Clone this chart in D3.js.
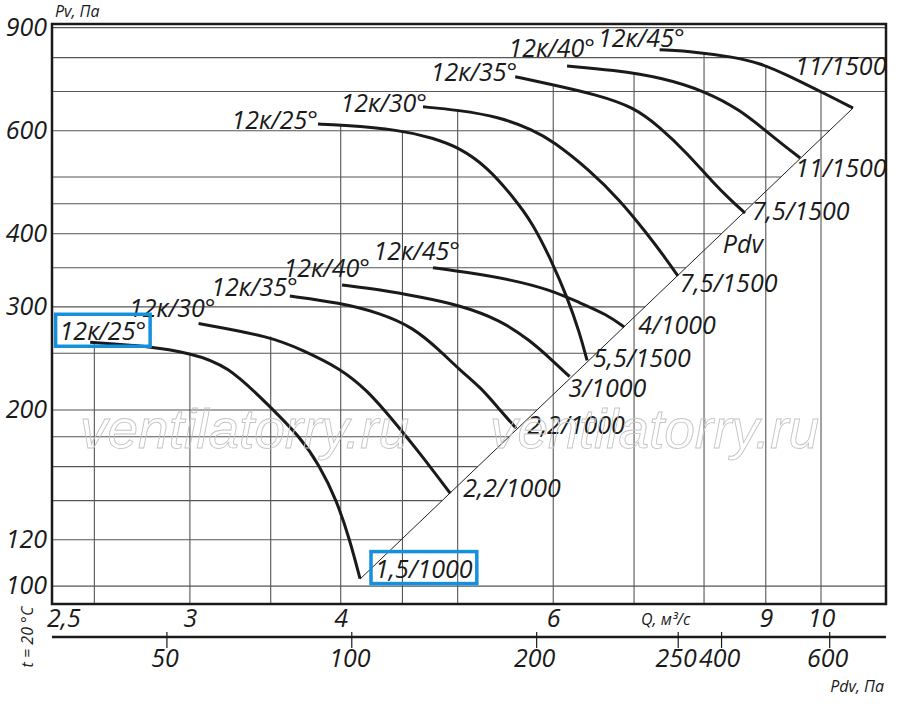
<!DOCTYPE html>
<html>
<head>
<meta charset="utf-8">
<script src="https://cdnjs.cloudflare.com/ajax/libs/d3/7.8.5/d3.min.js"></script>
<style>
body {margin: 0; background: #fff;}
svg {display: block;}
text {font-family: "Open Sans", sans-serif; font-style: italic; fill: #1a1a1a;}
.grid {stroke: #555; stroke-width: 1.1; fill: none;}
.curve {stroke: #1a1a1a; stroke-width: 3; fill: none;}
.watermark {fill: none; stroke: #c4c4c4; stroke-width: 0.9; font-family: "Liberation Sans", Arial, sans-serif;}
</style>
</head>
<body>
<div id="chart"></div>
<script>
// blade setting of each curve and the motor (kW/rpm) at its end
var bladeNames = ["12к/25°", "12к/30°", "12к/35°", "12к/40°", "12к/45°",
                  "12к/25°", "12к/30°", "12к/35°", "12к/40°", "12к/45°"];
var motorNames = ["1,5/1000", "2,2/1000", "2,2/1000", "3/1000", "4/1000",
                  "5,5/1500", "7,5/1500", "7,5/1500", "11/1500", "11/1500"];

// Q, m3/s, one list per curve
var curveQ = [
    [2.48, 2.78, 3.00, 3.22, 3.50, 3.70, 3.84, 3.97, 4.07, 4.15],
    [3.05, 3.50, 3.72, 3.99, 4.21, 4.42, 4.65, 4.93],
    [3.63, 3.99, 4.31, 4.59, 4.83, 5.02, 5.22, 5.42, 5.59],
    [4.01, 4.31, 4.65, 5.02, 5.42, 5.74, 5.99, 6.19],
    [4.77, 5.12, 5.53, 5.96, 6.31, 6.65, 6.87],
    [3.83, 3.99, 4.48, 4.77, 5.02, 5.29, 5.56, 5.77, 5.99, 6.16, 6.31, 6.40],
    [4.68, 5.00, 5.42, 5.77, 5.99, 6.43, 6.81, 7.17, 7.45, 7.61],
    [5.58, 5.99, 6.52, 6.99, 7.35, 7.74, 8.14, 8.45, 8.65],
    [6.16, 6.72, 7.40, 8.04, 8.57, 9.02, 9.37, 9.61],
    [7.35, 7.89, 8.45, 8.90, 9.37, 9.85, 10.23, 10.63]
];
// Pv, Pa for the same points
var curveP = [
    [261, 257, 250, 239, 202, 180, 161, 140, 120, 103],
    [281, 267, 253, 236, 216, 192, 169, 144],
    [313, 305, 293, 277, 253, 234, 219, 200, 186],
    [327, 321, 312, 302, 285, 263, 243, 228],
    [350, 343, 334, 321, 305, 291, 277],
    [616, 614, 602, 583, 561, 520, 462, 417, 357, 312, 271, 243],
    [659, 651, 633, 602, 577, 514, 457, 401, 361, 339],
    [742, 719, 691, 659, 609, 550, 489, 453, 434],
    [774, 762, 739, 699, 651, 597, 561, 539],
    [825, 818, 802, 783, 747, 710, 683, 656]
];

// dynamic pressure line (Pdv) end points
var pdvLineQ = [4.15, 10.63];
var pdvLineP = [102.8, 656];

var gridQ = [2.5, 3, 3.5, 4, 4.5, 5, 6, 7, 8, 9, 10];
var gridP = [100, 120, 140, 160, 180, 200, 250, 300, 350, 400, 450, 500, 600, 700, 800, 900];
var qTicks = [2.5, 3, 4, 6, 9, 10];
var pvTicks = [100, 120, 200, 300, 400, 600, 900];
var pdvTickValues = [50, 100, 200, 340, 400, 600];
var pdvTickLabels = ["50", "100", "200", "250", "400", "600"];

/**
 * Constructor for the fan chart
 */
function FanChart(){
    var self = this;
    self.init();
};

/**
 * Sets up svg, scales and label layout
 */
FanChart.prototype.init = function(){
    var self = this;

    self.margin = {top: 24, right: 14, bottom: 103, left: 52};
    self.svgWidth = 900;
    self.svgHeight = 707;
    self.width = self.svgWidth - self.margin.left - self.margin.right;
    self.height = self.svgHeight - self.margin.top - self.margin.bottom;
    self.fontSize = 25;

    self.svg = d3.select("#chart").append("svg")
        .attr("width", self.svgWidth)
        .attr("height", self.svgHeight);

    self.plot = self.svg.append("g")
        .attr("transform", "translate(" + self.margin.left + "," + self.margin.top + ")");

    self.xScale = d3.scaleLog().domain([2.306, 11.32]).range([0, self.width]);
    self.yScale = d3.scaleLog().domain([93.2, 913]).range([self.height, 0]);
    self.pdvScale = d3.scaleLog().domain([32.5, 741]).range([0, self.width]);

    // label offsets from curve start (blade) and curve end (motor)
    self.bladeOffset = [[56, -2], [17, -7], [8, 0], [28, -8], [27, -8],
                        [0, 5], [4, 5], [2, 4], [28, -9], [25, -3]];
    self.motorOffset = [[15, -1], [13, 4], [11, 6], [-1, 20], [14, 7],
                        [6, 7], [2, 16], [7, 7], [-5, 19], [-58, -33]];
};

/**
 * x position where the Pdv line crosses a given pressure, or null
 */
FanChart.prototype.pdvX = function(p){
    var self = this;
    var t = (Math.log(p) - Math.log(pdvLineP[0])) / (Math.log(pdvLineP[1]) - Math.log(pdvLineP[0]));
    if (t < 0 || t > 1) return null;
    var x0 = self.xScale(pdvLineQ[0]), x1 = self.xScale(pdvLineQ[1]);
    return x0 + t * (x1 - x0);
};

/**
 * Highest curve (smallest y) above a given Q, used to cut the vertical grid
 */
FanChart.prototype.topAt = function(q){
    var self = this;
    var found = false, best = self.height;
    curveQ.forEach(function(qs, c){
        if (q < qs[0] || q > qs[qs.length - 1]) return;
        for (var i = 0; i < qs.length - 1; i++){
            if (q >= qs[i] && q <= qs[i + 1]){
                var x = self.xScale(q), xa = self.xScale(qs[i]), xb = self.xScale(qs[i + 1]);
                var ya = self.yScale(curveP[c][i]), yb = self.yScale(curveP[c][i + 1]);
                var y = ya + (yb - ya) * (x - xa) / (xb - xa);
                if (y < best) best = y;
                found = true;
            }
        }
    });
    return found ? best : 0;
};

FanChart.prototype.update = function(){
    var self = this;
    var plot = self.plot;

    //horizontal grid, stopped at the Pdv line
    plot.selectAll(".hgrid").data(gridP)
        .enter()
        .append("line")
        .attr("class", "grid hgrid")
        .attr("x1", 0)
        .attr("x2", function (d) {var x = self.pdvX(d); return x === null ? self.width : x})
        .attr("y1", function (d) {return self.yScale(d)})
        .attr("y2", function (d) {return self.yScale(d)});

    //vertical grid, starting under the curves
    plot.selectAll(".vgrid").data(gridQ)
        .enter()
        .append("line")
        .attr("class", "grid vgrid")
        .attr("x1", function (d) {return self.xScale(d)})
        .attr("x2", function (d) {return self.xScale(d)})
        .attr("y1", function (d) {return self.topAt(d)})
        .attr("y2", self.height);

    //watermark
    [80, 490].forEach(function(x){
        self.svg.append("text")
            .attr("class", "watermark")
            .attr("x", x)
            .attr("y", 448)
            .attr("font-size", 55)
            .text("ventilatorry.ru");
    });

    //Pdv line
    plot.append("line")
        .attr("x1", self.xScale(pdvLineQ[0]))
        .attr("y1", self.yScale(pdvLineP[0]))
        .attr("x2", self.xScale(pdvLineQ[1]))
        .attr("y2", self.yScale(pdvLineP[1]))
        .attr("stroke", "#222")
        .attr("stroke-width", 1);

    var t = 0.74;
    var lx = self.xScale(pdvLineQ[0]) + t * (self.xScale(pdvLineQ[1]) - self.xScale(pdvLineQ[0]));
    var ly = self.yScale(pdvLineP[0]) + t * (self.yScale(pdvLineP[1]) - self.yScale(pdvLineP[0]));
    plot.append("text")
        .attr("x", lx - 2)
        .attr("y", ly + 23)
        .attr("font-size", self.fontSize)
        .text("Pdv");

    //curves
    var line = d3.line()
        .x(function (d) {return self.xScale(d[0])})
        .y(function (d) {return self.yScale(d[1])})
        .curve(d3.curveBasis);

    var curves = curveQ.map(function (qs, c) {
        return qs.map(function (q, i) {return [q, curveP[c][i]]});
    });

    plot.selectAll(".curve").data(curves)
        .enter()
        .append("path")
        .attr("class", "curve")
        .attr("d", line);

    //blade labels at the start of each curve
    plot.selectAll(".bladeText").data(curves)
        .enter()
        .append("text")
        .attr("class", "bladeText")
        .attr("text-anchor", "end")
        .attr("font-size", self.fontSize)
        .attr("x", function (d, i) {return self.xScale(d[0][0]) + self.bladeOffset[i][0]})
        .attr("y", function (d, i) {return self.yScale(d[0][1]) + self.bladeOffset[i][1]})
        .text(function (d, i) {return bladeNames[i]});

    //motor labels at the end of each curve
    plot.selectAll(".motorText").data(curves)
        .enter()
        .append("text")
        .attr("class", "motorText")
        .attr("font-size", self.fontSize)
        .attr("x", function (d, i) {return self.xScale(d[d.length - 1][0]) + self.motorOffset[i][0]})
        .attr("y", function (d, i) {return self.yScale(d[d.length - 1][1]) + self.motorOffset[i][1]})
        .text(function (d, i) {return motorNames[i]});

    //blue highlight boxes round the first curve's labels
    [plot.selectAll(".bladeText").nodes()[0], plot.selectAll(".motorText").nodes()[0]].forEach(function(node){
        var b = node.getBBox();
        plot.append("rect")
            .attr("x", b.x - 4)
            .attr("y", b.y + 1)
            .attr("width", b.width + 8)
            .attr("height", b.height - 2)
            .attr("fill", "none")
            .attr("stroke", "#1590dc")
            .attr("stroke-width", 3.5);
    });

    //frame
    plot.append("rect")
        .attr("width", self.width)
        .attr("height", self.height)
        .attr("fill", "none")
        .attr("stroke", "#1a1a1a")
        .attr("stroke-width", 2.5);

    //Pv axis labels
    plot.selectAll(".pvTick").data(pvTicks)
        .enter()
        .append("text")
        .attr("class", "pvTick")
        .attr("text-anchor", "end")
        .attr("font-size", self.fontSize)
        .attr("x", -5)
        .attr("y", function (d) {return self.yScale(d) + 8})
        .text(function (d) {return d});

    self.svg.append("text")
        .attr("x", 55)
        .attr("y", 17)
        .attr("font-size", 16)
        .text("Pv, Па");

    //Q axis labels (no tick marks)
    var qAxis = d3.axisBottom(self.xScale)
        .tickValues(qTicks)
        .tickSize(0)
        .tickPadding(5)
        .tickFormat(function (d) {return String(d).replace(".", ",")});
    var gq = plot.append("g")
        .attr("transform", "translate(0," + self.height + ")")
        .call(qAxis);
    gq.select(".domain").remove();
    gq.selectAll("text")
        .attr("font-size", self.fontSize)
        .attr("font-family", null)
        .attr("fill", "#1a1a1a")
        .attr("dy", "0.71em");
    gq.selectAll(".tick").filter(function (d) {return d === qTicks[0]})
        .select("text").attr("dx", -31);

    self.svg.append("text")
        .attr("x", 641)
        .attr("y", 625)
        .attr("font-size", 16)
        .text("Q, м³/с");

    //Pdv axis
    var pdvY = 637;
    var gp = self.svg.append("g")
        .attr("transform", "translate(" + self.margin.left + "," + pdvY + ")");
    gp.append("line")
        .attr("x1", 0)
        .attr("x2", self.width)
        .attr("stroke", "#1a1a1a")
        .attr("stroke-width", 2.5);
    gp.selectAll(".pdvTick").data(pdvTickValues)
        .enter()
        .append("line")
        .attr("x1", function (d) {return self.pdvScale(d)})
        .attr("x2", function (d) {return self.pdvScale(d)})
        .attr("y1", -5)
        .attr("y2", 11)
        .attr("stroke", "#1a1a1a")
        .attr("stroke-width", 1.2);
    gp.selectAll(".pdvLabel").data(pdvTickValues)
        .enter()
        .append("text")
        .attr("text-anchor", "middle")
        .attr("font-size", self.fontSize)
        .attr("x", function (d) {return self.pdvScale(d) - 2})
        .attr("y", 30)
        .text(function (d, i) {return pdvTickLabels[i]});

    self.svg.append("text")
        .attr("text-anchor", "end")
        .attr("x", 884)
        .attr("y", 692)
        .attr("font-size", 16)
        .text("Pdv, Па");

    self.svg.append("text")
        .attr("text-anchor", "middle")
        .attr("transform", "translate(33,637) rotate(-90)")
        .attr("font-size", 16)
        .text("t = 20 °C");
};

var chart = new FanChart();
chart.update();
</script>
</body>
</html>
